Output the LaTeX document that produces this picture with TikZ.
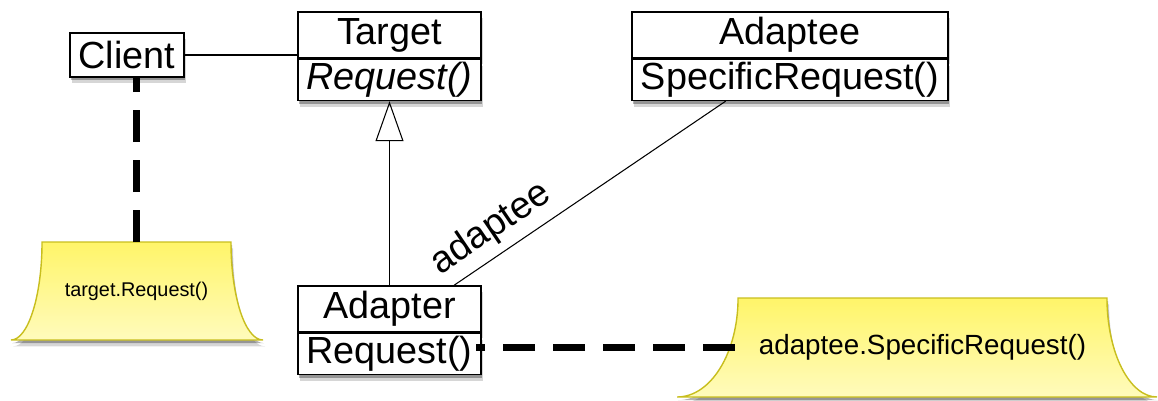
\documentclass[tikz,border=0pt]{standalone}
\usepackage{fontspec}
\setmainfont{Liberation Sans}
\usetikzlibrary{positioning,calc,arrows.meta,shadows,backgrounds}

\definecolor{notetop}{RGB}{255,245,105}
\definecolor{notebottom}{RGB}{255,251,188}
\definecolor{noteedge}{RGB}{200,190,30}

\tikzset{
	softshadow/.style={drop shadow={shadow xshift=0.6pt,shadow yshift=-1.8pt,opacity=0.3,fill=black},
		drop shadow={shadow xshift=1.2pt,shadow yshift=-3.6pt,opacity=0.16,fill=black}},
	classname/.style={draw,fill=white,line width=0.85pt,inner sep=0pt,minimum height=0.92cm,
		font=\fontsize{21.5}{24}\selectfont,softshadow},
	classop/.style={classname,minimum height=0.82cm},
	notetext/.style={inner sep=0pt,outer sep=0pt},
	noteshape/.style={draw=noteedge,line width=0.8pt,top color=notetop,bottom color=notebottom,softshadow},
	notelink/.style={line width=3.6pt,dash pattern=on 0.64cm off 0.36cm},
	link/.style={line width=0.6pt}
}

\begin{document}
\begin{tikzpicture}[x=0.02cm,y=-0.02cm]
			\useasboundingbox (0,0) rectangle (1158,400);

			% classes
			\node[classname,minimum width=2.28cm,minimum height=0.88cm] (client) at (127,55) {Client};
			\node[classname,minimum width=3.66cm] (target) at (389.5,35) {Target};
			\node[classop,minimum width=3.66cm,below=0pt of target] (targetop) {\itshape Request()};
			\node[classname,minimum width=6.32cm] (adaptee) at (790,35) {Adaptee};
			\node[classop,minimum width=6.32cm,below=0pt of adaptee] (adapteeop) {SpecificRequest()};
			\node[classname,minimum width=3.66cm] (adapter) at (389.5,309) {Adapter};
			\node[classop,minimum width=3.66cm,below=0pt of adapter] (adapterop) {Request()};

			% notes
			\node[notetext,minimum width=3.78cm,minimum height=1.96cm,font=\fontsize{11.3}{13}\selectfont] (note1) at (136.5,291) {target.Request()};
			\node[notetext,minimum width=7.38cm,minimum height=1.98cm,font=\fontsize{15.8}{18}\selectfont] (note2) at (922.5,347.5) {adaptee.SpecificRequest()};

			\begin{scope}[on background layer]
			\draw[noteshape] (note1.north west) .. controls +(0,54) and +(17,0) .. ($(note1.south west)+(-31,0)$)
				-- ($(note1.south east)+(32,0)$) .. controls +(-18,0) and +(0,54) .. (note1.north east) -- cycle;
			\draw[noteshape] (note2.north west) .. controls +(0,54.5) and +(34,0) .. ($(note2.south west)+(-61,0)$)
				-- ($(note2.south east)+(50,0)$) .. controls +(-27.5,0) and +(0,54.5) .. (note2.north east) -- cycle;
			\end{scope}

			% connectors
			\draw[link] (client.east) -- (client.east -| target.west);
			\draw[link,-{Triangle[open,length=0.8cm,width=0.56cm]}] (adapter.north) -- (targetop.south);
			\draw[link] ($(adapter.north west)!0.85!(adapter.north east)$)
				-- node[sloped,pos=0.19,above=3pt,inner sep=1.5pt,font=\fontsize{21.5}{24}\selectfont] (role) {adaptee}
				($(adapteeop.south west)!0.297!(adapteeop.south east)$);

			\draw[notelink] (note1.north) -- (note1.north |- client.south);
			\draw[notelink,shorten <=0.06cm,shorten >=-0.12cm] (note2.west) -- (note2.west -| adapterop.east);
\end{tikzpicture}
\end{document}
